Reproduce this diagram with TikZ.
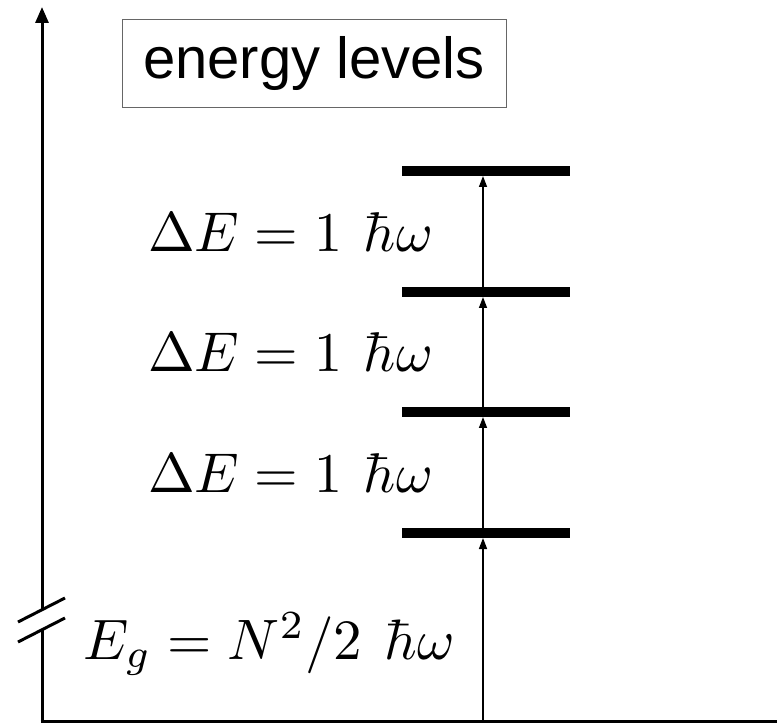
\documentclass[tikz,border=0pt]{standalone}
\usepackage{graphicx}
\usepackage{fontspec}
\newfontfamily\labelsans{Liberation Sans}
\usetikzlibrary{arrows.meta}
\begin{document}
\begin{tikzpicture}[x=1pt,y=-1pt,
  axisline/.style={line width=3pt},
  axisarrow/.style={line width=3pt,-{Triangle[width=13pt,length=16pt]}},
  bar/.style={fill=black,draw=none,minimum width=168pt,minimum height=10pt,inner sep=0pt,outer sep=0pt},
  lvlarrow/.style={line width=1.5pt,-{Triangle[width=8pt,length=11pt]}},
  mathlabel/.style={anchor=base west,inner sep=0pt},
  titlebox/.style={draw=black!60,line width=1pt,minimum width=384pt,minimum height=88pt,inner sep=0pt,font=\labelsans\fontsize{58}{66}\selectfont}
]
\useasboundingbox (0,0) rectangle (777,727);
% axes
\coordinate (O) at (42,721);
\coordinate (top) at (42,7);
\coordinate (xend) at (777,721);
\coordinate (b1) at (42,630);
\coordinate (b2) at (42,610);
\draw[axisline] (O) -- (b1);
\draw[axisarrow] (b2) -- (top);
\draw[axisline] ([xshift=-1.5pt]O) -- (xend);
\coordinate (s1a) at (18,622); \coordinate (s1b) at (65,598);
\coordinate (s2a) at (18,642); \coordinate (s2b) at (65,618);
\draw[axisline] (s1a) -- (s1b);
\draw[axisline] (s2a) -- (s2b);
% title
\node[titlebox] (title) at (314,64) {energy levels};
% levels
\coordinate (a0) at (483,721);
\node[bar] (L1) at (486,533) {};
\node[bar] (L2) at (486,412) {};
\node[bar] (L3) at (486,292) {};
\node[bar] (L4) at (486,171) {};
\draw[lvlarrow] (a0) -- (a0 |- L1.south);
\draw[lvlarrow] (a0 |- L1.north) -- (a0 |- L2.south);
\draw[lvlarrow] (a0 |- L2.north) -- (a0 |- L3.south);
\draw[lvlarrow] (a0 |- L3.north) -- (a0 |- L4.south);
% labels
\node[mathlabel] (d1) at (148,252) {\scalebox{5.6}{$\Delta E = 1\mkern7mu\hbar\omega$}};
\node[mathlabel] (d2) at (148,372) {\scalebox{5.6}{$\Delta E = 1\mkern7mu\hbar\omega$}};
\node[mathlabel] (d3) at (148,492) {\scalebox{5.6}{$\Delta E = 1\mkern7mu\hbar\omega$}};
\node[mathlabel] (eg) at (83,659) {\scalebox{5.7}{$E_g = N^2/2\mkern7mu\hbar\omega$}};
\end{tikzpicture}
\end{document}
